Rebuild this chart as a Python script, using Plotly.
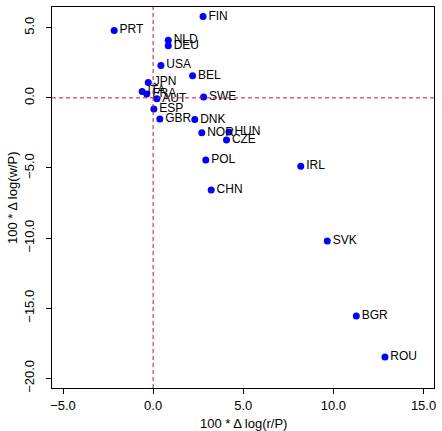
import plotly.graph_objects as go

countries = ["FIN", "PRT", "NLD", "DEU", "USA", "BEL", "JPN", "ITA", "FRA", "AUT",
             "SWE", "ESP", "GBR", "DNK", "NOR", "HUN", "CZE", "POL", "CHN", "IRL",
             "SVK", "BGR", "ROU"]
dlog_r = [2.77, -2.16, 0.84, 0.84, 0.43, 2.19, -0.27, -0.61, -0.35, 0.21,
          2.80, 0.04, 0.37, 2.31, 2.70, 4.21, 4.07, 2.92, 3.22, 8.19,
          9.66, 11.27, 12.86]
dlog_w = [5.80, 4.81, 4.10, 3.72, 2.31, 1.58, 1.10, 0.46, 0.28, -0.07,
          0.06, -0.80, -1.51, -1.55, -2.48, -2.44, -3.01, -4.43, -6.57, -4.88,
          -10.20, -15.56, -18.48]
x_ticks = [-5, 0, 5, 10, 15]
y_ticks = [5, 0, -5, -10, -15, -20]
x_title = "100 * Δ log(r/P)"
y_title = "100 * Δ log(w/P)"

font = "Liberation Sans, Arial, sans-serif"
ref_color = "#C8103A"

fig = go.Figure()
fig.add_trace(go.Scatter(
    x=dlog_r, y=dlog_w, text=countries, mode="markers+text",
    textposition="middle right",
    marker=dict(color="#0000FF", size=7),
    textfont=dict(family=font, size=12, color="black"),
    cliponaxis=False, showlegend=False,
))

fig.add_shape(type="line", xref="x", yref="paper", x0=0, x1=0, y0=0, y1=1,
              line=dict(color=ref_color, width=1, dash="4px,3px"))
fig.add_shape(type="line", xref="paper", yref="y", x0=0, x1=1, y0=0, y1=0,
              line=dict(color=ref_color, width=1, dash="4px,3px"))

fig.add_annotation(text=x_title, xref="paper", yref="paper", x=0.5, y=0,
                   yshift=-26, yanchor="top", showarrow=False,
                   font=dict(family=font, size=13, color="black"))
fig.add_annotation(text=y_title, xref="paper", yref="paper", x=0, y=0.5,
                   xshift=-30, xanchor="right", textangle=-90, showarrow=False,
                   font=dict(family=font, size=13, color="black"))

fig.update_layout(
    width=442, height=431,
    margin=dict(l=52, r=8, t=7, b=43),
    paper_bgcolor="white", plot_bgcolor="white",
    font=dict(family=font, size=13, color="black"),
    xaxis=dict(range=[-5.61, 15.58], tickvals=x_ticks, tickformat=".1f",
               showgrid=False, zeroline=False, showline=True, mirror=True,
               linecolor="black", linewidth=1, ticks="outside", ticklen=5,
               tickcolor="black", automargin=False, tickfont=dict(size=13)),
    yaxis=dict(range=[-20.69, 6.48], tickvals=y_ticks, tickformat=".1f",
               showgrid=False, zeroline=False, showline=True, mirror=True,
               linecolor="black", linewidth=1, ticks="outside", ticklen=5,
               tickcolor="black", tickangle=-90, automargin=False,
               ticklabelstandoff=7, tickfont=dict(size=13)),
)

fig.write_html("out.html",
               config={"displayModeBar": False},
               post_script="document.body.style.margin='0';document.body.style.overflow='hidden';")
